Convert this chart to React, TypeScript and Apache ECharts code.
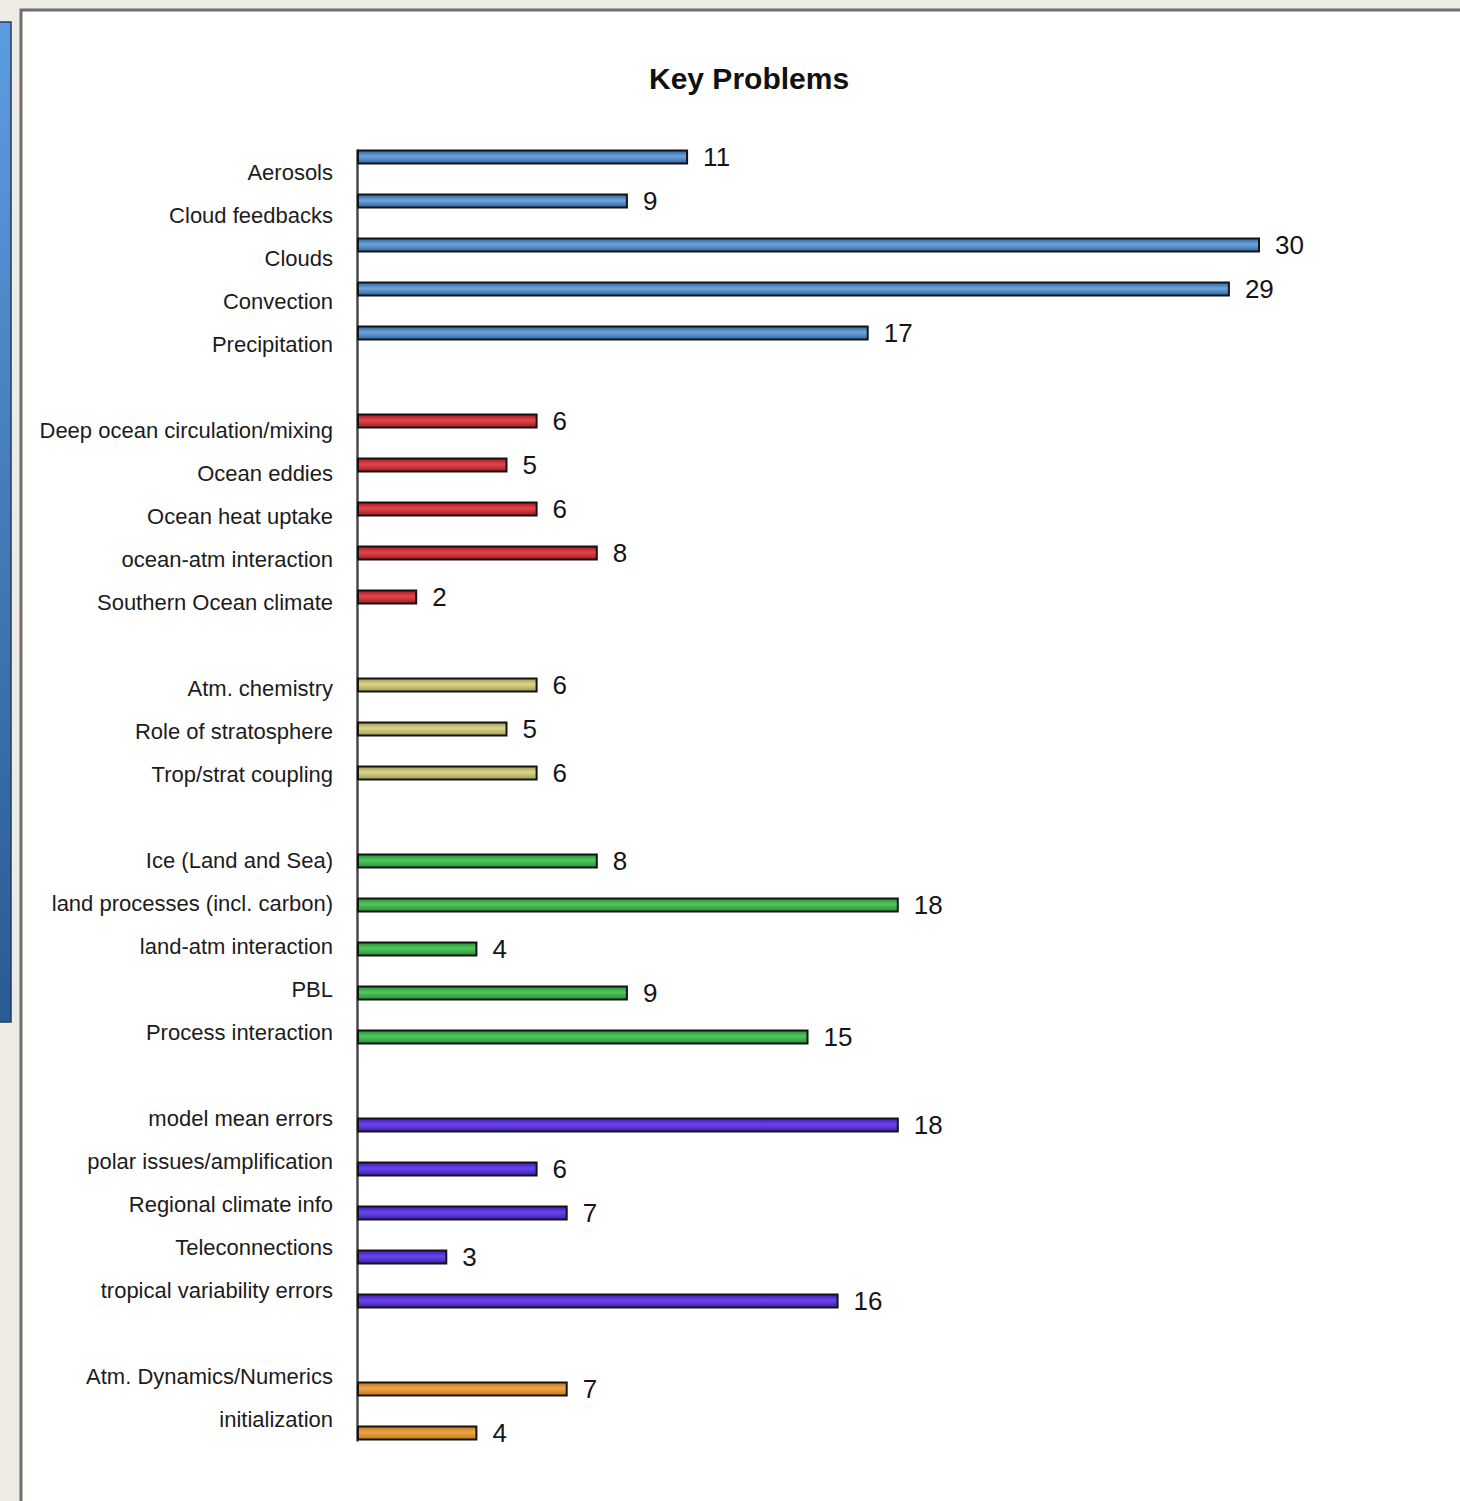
import React, { useEffect, useRef } from "react";
import * as echarts from "echarts";

// ---- data ----
const atmosLabels = ["Aerosols", "Cloud feedbacks", "Clouds", "Convection", "Precipitation"];
const atmosValues = [11, 9, 30, 29, 17];
const oceanLabels = ["Deep ocean circulation/mixing", "Ocean eddies", "Ocean heat uptake", "ocean-atm interaction", "Southern Ocean climate"];
const oceanValues = [6, 5, 6, 8, 2];
const stratLabels = ["Atm. chemistry", "Role of stratosphere", "Trop/strat coupling"];
const stratValues = [6, 5, 6];
const landLabels = ["Ice (Land and Sea)", "land processes (incl. carbon)", "land-atm interaction", "PBL", "Process interaction"];
const landValues = [8, 18, 4, 9, 15];
const modelLabels = ["model mean errors", "polar issues/amplification", "Regional climate info", "Teleconnections", "tropical variability errors"];
const modelValues = [18, 6, 7, 3, 16];
const dynLabels = ["Atm. Dynamics/Numerics", "initialization"];
const dynValues = [7, 4];

const title = "Key Problems";

// palette per group: [edge, middle]
const groupColors: [string, string][] = [
  ["#2c639f", "#6ea6dd"],
  ["#a8171d", "#e0474c"],
  ["#9e9a4e", "#dcd68e"],
  ["#21923a", "#53c75d"],
  ["#3b1bb5", "#6a45ec"],
  ["#c27718", "#f0a648"],
];

const groups = [
  { labels: atmosLabels, values: atmosValues },
  { labels: oceanLabels, values: oceanValues },
  { labels: stratLabels, values: stratValues },
  { labels: landLabels, values: landValues },
  { labels: modelLabels, values: modelValues },
  { labels: dynLabels, values: dynValues },
];

function buildData() {
  const cats: string[] = [];
  const data: any[] = [];
  groups.forEach((g, gi) => {
    if (gi > 0) {
      cats.push(" ".repeat(gi));
      data.push("-");
    }
    const [edge, mid] = groupColors[gi];
    g.labels.forEach((l, i) => {
      cats.push(l);
      data.push({
        value: g.values[i],
        itemStyle: {
          color: new echarts.graphic.LinearGradient(0, 0, 0, 1, [
            { offset: 0, color: edge },
            { offset: 0.45, color: mid },
            { offset: 1, color: edge },
          ]),
        },
      });
    });
  });
  return { cats, data };
}

export default function App() {
  const ref = useRef<HTMLDivElement>(null);
  useEffect(() => {
    if (!ref.current) return;
    const chart = echarts.init(ref.current, null, { renderer: "svg" });
    const { cats, data } = buildData();
    const font = "Liberation Sans, Arial, Helvetica, sans-serif";
    chart.setOption({
      animation: false,
      backgroundColor: "#eeebe5",
      graphic: [
        {
          type: "rect",
          z: -10,
          shape: { x: 21, y: 10, width: 1460, height: 1520 },
          style: { fill: "#ffffff", stroke: "#6f6f6f", lineWidth: 3 },
        },
        {
          type: "rect",
          z: -10,
          shape: { x: -2, y: 22, width: 13, height: 1000 },
          style: {
            fill: new echarts.graphic.LinearGradient(0, 0, 0, 1, [
              { offset: 0, color: "#5d9be0" },
              { offset: 1, color: "#2a5b93" },
            ]),
            stroke: "#1f3d63",
            lineWidth: 1.5,
          },
        },
      ],
      title: {
        text: title,
        left: 644,
        top: 58,
        textStyle: { fontFamily: font, fontSize: 30, fontWeight: "bold", color: "#111" },
      },
      grid: [
        { left: 357, top: 135, width: 35 * 30.1, height: 1320, containLabel: false },
        { left: 357, top: 150.5, width: 100, height: 1290, containLabel: false },
      ],
      xAxis: [
        { type: "value", gridIndex: 0, min: 0, max: 35, show: false },
        { type: "value", gridIndex: 1, min: 0, max: 1, show: false },
      ],
      yAxis: [
        {
          type: "category",
          gridIndex: 0,
          inverse: true,
          data: cats,
          axisLine: { show: false },
          axisTick: { show: false },
          axisLabel: { show: false },
        },
        {
          type: "category",
          gridIndex: 1,
          inverse: true,
          data: cats,
          axisLine: { show: true, lineStyle: { color: "#4a4a4a", width: 2.5 } },
          axisTick: { show: false },
          axisLabel: {
            show: true,
            margin: 24,
            fontFamily: font,
            fontSize: 22,
            color: "#1c1c1c",
            interval: 0,
          },
        },
      ],
      series: [
        {
          type: "bar",
          xAxisIndex: 0,
          yAxisIndex: 0,
          data,
          barWidth: 15,
          itemStyle: { borderColor: "#141414", borderWidth: 2 },
          label: {
            show: true,
            position: "right",
            distance: 15,
            fontFamily: font,
            fontSize: 26,
            color: "#151515",
          },
        },
      ],
    });
    return () => chart.dispose();
  }, []);
  return (
    <div
      ref={ref}
      style={{ position: "fixed", left: 0, top: 0, width: 1460, height: 1501 }}
    />
  );
}
